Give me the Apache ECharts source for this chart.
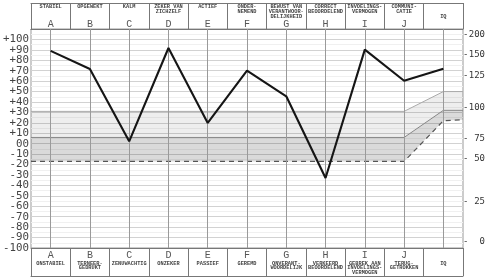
<!DOCTYPE html>
<html>
<head>
<meta charset="utf-8">
<script src="https://cdn.jsdelivr.net/npm/echarts@6/dist/echarts.min.js"></script>
<style>
html,body{margin:0;padding:0;background:#fff;}
#c{width:490px;height:278px;}
</style>
</head>
<body>
<div id="c"></div>
<script>
// ---- data ----
const categories = ['A','B','C','D','E','F','G','H','I','J','IQ'];
const topLetters = ['A','B','C','D','E','F','G','H','I','J',''];
const topCaptions = [
  ['STABIEL'], ['OPGEWEKT'], ['KALM'], ['ZEKER VAN','ZICHZELF'], ['ACTIEF'],
  ['ONDER-','NEMEND'], ['BEWUST VAN','VERANTWOOR-','DELIJKHEID'], ['CORRECT','BEOORDELEND'],
  ['INVOELINGS-','VERMOGEN'], ['COMMUNI-','CATIE'], ['','','IQ']
];
const bottomLetters = ['A','B','C','D','E','F','G','H','I','J',''];
const bottomCaptions = [
  ['ONSTABIEL'], ['TERNEER-','GEDRUKT'], ['ZENUWACHTIG'], ['ONZEKER'], ['PASSIEF'],
  ['GEREMD'], ['ONVERANT-','WOORDELIJK'], ['VERKEERD','BEOORDELEND'],
  ['GEBREK AAN','INVOELINGS-','VERMOGEN'], ['TERUG-','GETROKKEN'], ['IQ']
];
const profile = [89, 71.6, 2.3, 91.8, 19.9, 70, 45.5, -32.9, 90.2, 60.4, 71.9];

const bandX = [-0.5, 9, 10, 10.5];
const upperLine = [31, 31, 50, 50];
const bandTop = [6, 6, 32, 32];
const dashedLine = [-17, -17, 22, 23];

const leftMin = -100, leftMax = 110, leftInterval = 10;
const leftLabelsEven = [100, 80, 60, 40, 20, 0, -20, -40, -60, -80, -100];
const leftLabelsOdd = [90, 70, 50, 30, 10, -10, -30, -50, -70, -90];
const rightLabels = [200, 150, 125, 100, 75, 50, 25, 0];
const rightPositions = [104.7, 85, 65, 34.7, 5, -14.6, -55.6, -94];

// ---- build ----
const capFont = 'Liberation Mono';
function topText(i){
  const caps = topCaptions[i].slice();
  while (caps.length < 3) caps.push('');
  return caps.map(c => '{s|' + (c || ' ') + '}').join('\n') + '\n{l|' + (topLetters[i] || ' ') + '}';
}
function bottomText(i){
  return '{l|' + (bottomLetters[i] || ' ') + '}\n' + bottomCaptions[i].map(c => '{s|' + c + '}').join('\n');
}
const richTop = {
  s: {fontSize: 5.3, lineHeight: 5, fontFamily: capFont, fontWeight: 'bold', color: '#444'},
  l: {fontSize: 10, lineHeight: 10, fontFamily: capFont, color: '#555'}
};
const richBottom = {
  s: {fontSize: 5.3, lineHeight: 4.5, fontFamily: capFont, fontWeight: 'bold', color: '#444'},
  l: {fontSize: 10, lineHeight: 12, fontFamily: capFont, color: '#555'}
};

const pairs = (xs, ys) => xs.map((x, i) => [x, ys[i]]);

function bandSeries(name, upper, lower, fill){
  return {
    name: name, type: 'custom', xAxisIndex: 0, yAxisIndex: 0, z: 1, silent: true, clip: true,
    data: [[0, 0]],
    renderItem: function(params, api){
      const top = bandX.map((x, i) => api.coord([x, upper[i]]));
      const bot = bandX.map((x, i) => api.coord([x, lower[i]])).reverse();
      return {type: 'polygon', shape: {points: top.concat(bot)}, style: {fill: fill}};
    }
  };
}
function edgeLine(name, ys, style){
  return {name: name, type: 'line', xAxisIndex: 0, yAxisIndex: 0, data: pairs(bandX, ys),
    symbol: 'none', z: 3, silent: true, lineStyle: style};
}
const leftFmt = v => v > 0 ? '+' + v : (v === 0 ? '00' : String(v));
function leftLabelAxis(values){
  return {type: 'value', min: leftMin, max: leftMax, position: 'left', offset: 0, alignTicks: false,
    axisLine: {show: false, onZero: false}, axisTick: {show: false}, splitLine: {show: false},
    axisLabel: {margin: 2, customValues: values, showMinLabel: true, showMaxLabel: true, hideOverlap: false,
      fontFamily: 'DejaVu Sans Mono', fontSize: 10.8, color: '#444', formatter: leftFmt}};
}

const catAxisBase = {type: 'category', data: categories, boundaryGap: true,
  axisLine: {show: true, onZero: false, lineStyle: {color: '#777'}}, splitLine: {show: false}};

const chart = echarts.init(document.getElementById('c'), null, {renderer: 'canvas'});
chart.setOption({
  animation: false,
  backgroundColor: '#fff',
  grid: {left: 31, right: 27, top: 29, bottom: 30, show: true, borderColor: '#999', borderWidth: 1},
  xAxis: [
    {type: 'value', min: -0.5, max: 10.5, show: false, axisLine: {onZero: false}},
    Object.assign({}, catAxisBase, {position: 'bottom',
     axisTick: {show: true, length: 28, lineStyle: {color: '#777'}},
     axisLabel: {interval: 0, margin: 1, formatter: (v, i) => bottomText(i), rich: richBottom, align: 'center', verticalAlign: 'top'}}),
    Object.assign({}, catAxisBase, {position: 'top',
     axisTick: {show: true, length: 26, lineStyle: {color: '#777'}},
     axisLabel: {interval: 0, margin: 0, formatter: (v, i) => topText(i), rich: richTop, align: 'center', verticalAlign: 'bottom'}}),
    Object.assign({}, catAxisBase, {position: 'top', offset: 26, axisTick: {show: false}, axisLabel: {show: false}}),
    Object.assign({}, catAxisBase, {position: 'bottom', offset: 28, axisTick: {show: false}, axisLabel: {show: false}})
  ],
  yAxis: [
    {type: 'value', min: leftMin, max: leftMax, interval: leftInterval, position: 'left',
     axisLine: {show: false, onZero: false}, axisTick: {show: false},
     axisLabel: {show: false},
     splitLine: {show: true, lineStyle: {color: '#d2d2d2', width: 1}},
     minorTick: {show: false, splitNumber: 2},
     minorSplitLine: {show: true, lineStyle: {color: '#f0f0f0', width: 1}}},
    {type: 'value', min: leftMin, max: leftMax, position: 'right', alignTicks: false,
     axisLine: {show: false, onZero: false},
     axisTick: {show: false},
     axisLabel: {margin: 0, customValues: rightPositions, showMinLabel: true, showMaxLabel: true,
       formatter: v => {
         let best = 0;
         rightPositions.forEach((p, i) => { if (Math.abs(p - v) < Math.abs(rightPositions[best] - v)) best = i; });
         return '{d|-}{n|' + rightLabels[best] + '}';
       },
       rich: {
         d: {width: 6, align: 'left', fontFamily: 'DejaVu Sans Mono', fontSize: 9, color: '#333'},
         n: {width: 16, align: 'right', fontFamily: 'DejaVu Sans Mono', fontSize: 9, color: '#333'}
       }},
     splitLine: {show: false}},
    leftLabelAxis(leftLabelsEven),
    leftLabelAxis(leftLabelsOdd)
  ],
  series: [
    bandSeries('lichte band', upperLine, bandTop, 'rgba(0,0,0,0.065)'),
    bandSeries('donkere band', bandTop, dashedLine, 'rgba(0,0,0,0.145)'),
    edgeLine('bovengrens', upperLine, {color: '#aaa', width: 1}),
    edgeLine('bandgrens', bandTop, {color: '#888', width: 1}),
    edgeLine('ondergrens', dashedLine, {color: '#555', width: 1.2, type: [5, 4]}),
    {name: 'raster', type: 'line', xAxisIndex: 0, yAxisIndex: 0, data: [], z: 2, silent: true,
     markLine: {silent: true, symbol: 'none', label: {show: false}, animation: false,
       lineStyle: {color: '#9a9a9a', width: 1, type: 'solid'},
       data: categories.map((c, i) => ({xAxis: i}))}},
    {name: 'profiel', type: 'line', xAxisIndex: 0, yAxisIndex: 0,
     data: profile.map((v, i) => [i, v]), symbol: 'none', z: 5,
     lineStyle: {color: '#151515', width: 2.1}}
  ]
});
</script>
</body>
</html>
